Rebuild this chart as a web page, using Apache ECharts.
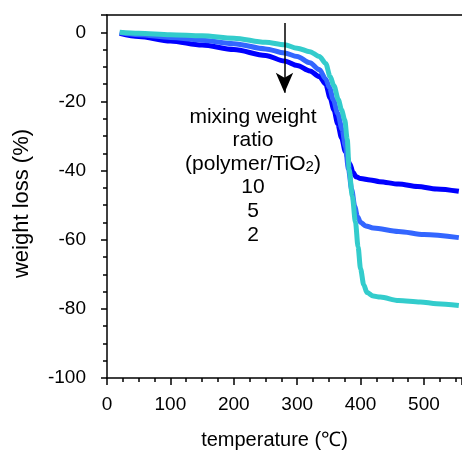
<!DOCTYPE html>
<html>
<head>
<meta charset="utf-8">
<script src="https://cdn.jsdelivr.net/npm/echarts@6/dist/echarts.min.js"></script>
<style>
  html, body { margin: 0; padding: 0; background: #fff; }
  #chart { width: 462px; height: 455px; }
</style>
</head>
<body>
<div id="chart"></div>
<script>
// TGA curves: weight loss vs temperature for three polymer/TiO2 mixing ratios
var tempRatio10 = [20, 50, 100, 150, 200, 250, 280, 300, 320, 335, 345, 352, 358, 364, 370, 376, 383, 388, 393, 400, 415, 430, 460, 490, 520, 555];
var lossRatio10 = [-0.3, -1.2, -2.5, -3.7, -5.0, -6.7, -8.3, -9.6, -11.2, -12.8, -15.0, -19.0, -22.5, -26.5, -30.5, -34.5, -38.0, -40.5, -41.8, -42.3, -42.7, -43.2, -43.9, -44.6, -45.3, -46.0];

var tempRatio5 = [20, 50, 100, 150, 200, 250, 280, 300, 320, 335, 345, 351, 357, 364, 371, 376, 381, 386, 391, 395, 400, 408, 420, 460, 500, 555];
var lossRatio5 = [-0.1, -0.7, -1.5, -2.3, -3.3, -4.8, -6.0, -7.0, -8.8, -10.8, -13.5, -16.0, -19.5, -23.5, -28.1, -33.0, -39.7, -45.5, -50.5, -53.3, -55.0, -56.0, -56.6, -57.6, -58.5, -59.4];

var tempRatio2 = [20, 50, 100, 150, 200, 250, 280, 300, 320, 335, 345, 352, 358, 365, 370, 375, 379, 382, 387, 392, 396, 400, 405, 410, 420, 431, 460, 494, 520, 555];
var lossRatio2 = [0.0, -0.3, -0.7, -1.0, -1.7, -2.9, -3.6, -4.6, -5.6, -7.0, -9.0, -12.8, -15.5, -19.5, -22.5, -25.3, -31.0, -39.7, -47.5, -55.0, -62.0, -68.5, -73.0, -75.3, -76.3, -76.6, -77.6, -78.0, -78.5, -79.0];

var xTicks = { min: 0, max: 560, step: 100 };
var yTicks = { min: -100, max: 5, step: 20 };

var legendLines = ['mixing weight', 'ratio', '(polymer/TiO{sub|2})', '10', '5', '2'];

// arrow marking the trend with increasing TiO2 content
var arrowTemp = 280;
var arrowFrom = 2.7;
var arrowTo = -17.5;

function pairs(xs, ys) {
  return xs.map(function (x, i) { return [x, ys[i]]; });
}

var FONT = "'Liberation Sans', Arial, sans-serif";
var lineW = 5;

var chart = echarts.init(document.getElementById('chart'), null, { renderer: 'canvas' });

var axisLineStyle = { color: '#000', width: 1.5 };

chart.setOption({
  animation: false,
  backgroundColor: '#fff',
  grid: { left: 107, top: 15, right: 0, bottom: 76, containLabel: false },
  xAxis: [{
    type: 'value',
    min: xTicks.min, max: xTicks.max, interval: xTicks.step,
    name: 'temperature (\u2103)',
    nameLocation: 'middle',
    nameGap: 52,
    nameTextStyle: { fontFamily: FONT, fontSize: 20, color: '#000', padding: [0, 20, 0, 0] },
    axisLine: { show: true, onZero: false, lineStyle: axisLineStyle },
    axisTick: { show: true, inside: false, length: 7, lineStyle: { color: '#000', width: 1.5 } },
    minorTick: { show: true, splitNumber: 4, length: 4, lineStyle: { color: '#000', width: 1.5 } },
    axisLabel: { fontFamily: FONT, fontSize: 19, color: '#000', margin: 17, showMaxLabel: false },
    splitLine: { show: false }
  }, {
    type: 'value', position: 'top',
    min: xTicks.min, max: xTicks.max,
    axisLine: { show: true, onZero: false, lineStyle: axisLineStyle },
    axisTick: { show: false }, axisLabel: { show: false }, splitLine: { show: false }
  }],
  yAxis: {
    type: 'value',
    min: yTicks.min, max: yTicks.max, interval: yTicks.step,
    name: 'weight loss (%)',
    nameLocation: 'middle',
    nameGap: 74,
    nameTextStyle: { fontFamily: FONT, fontSize: 22, color: '#000', padding: [0, 14, 0, 0] },
    axisLine: { show: true, onZero: false, lineStyle: axisLineStyle },
    axisTick: { show: true, inside: false, length: 6, lineStyle: { color: '#000', width: 1.5 } },
    minorTick: { show: true, splitNumber: 4, length: 4, lineStyle: { color: '#000', width: 1.5 } },
    axisLabel: { fontFamily: FONT, fontSize: 19, color: '#000', margin: 21, showMaxLabel: false },
    splitLine: { show: false }
  },
  series: [{
    name: '10', type: 'line', data: pairs(tempRatio10, lossRatio10),
    showSymbol: false, smooth: 0.3, smoothMonotone: 'x',
    lineStyle: { color: '#0000ff', width: lineW }, z: 2
  }, {
    name: '5', type: 'line', data: pairs(tempRatio5, lossRatio5),
    showSymbol: false, smooth: 0.3, smoothMonotone: 'x',
    lineStyle: { color: '#3366ff', width: lineW }, z: 3
  }, {
    name: '2', type: 'line', data: pairs(tempRatio2, lossRatio2),
    showSymbol: false, smooth: 0.3, smoothMonotone: 'x',
    lineStyle: { color: '#33cccc', width: lineW }, z: 4,
    markLine: {
      silent: true, z: 10,
      symbol: ['none', 'arrow'], symbolSize: [13, 20],
      lineStyle: { color: '#000', width: 1.5, type: 'solid' },
      label: { show: false },
      data: [[{ coord: [arrowTemp, arrowFrom] }, { coord: [arrowTemp, arrowTo] }]]
    }
  }],
  graphic: [{
    type: 'text',
    x: 253, y: 105,
    style: {
      text: legendLines.join('\n'),
      align: 'center',
      verticalAlign: 'top',
      fontFamily: FONT, fontSize: 21, lineHeight: 23.6,
      fill: '#000',
      rich: { sub: { fontFamily: FONT, fontSize: 15, padding: [6, 0, 0, 0], lineHeight: 23.6 } }
    }
  }]
});
</script>
</body>
</html>
